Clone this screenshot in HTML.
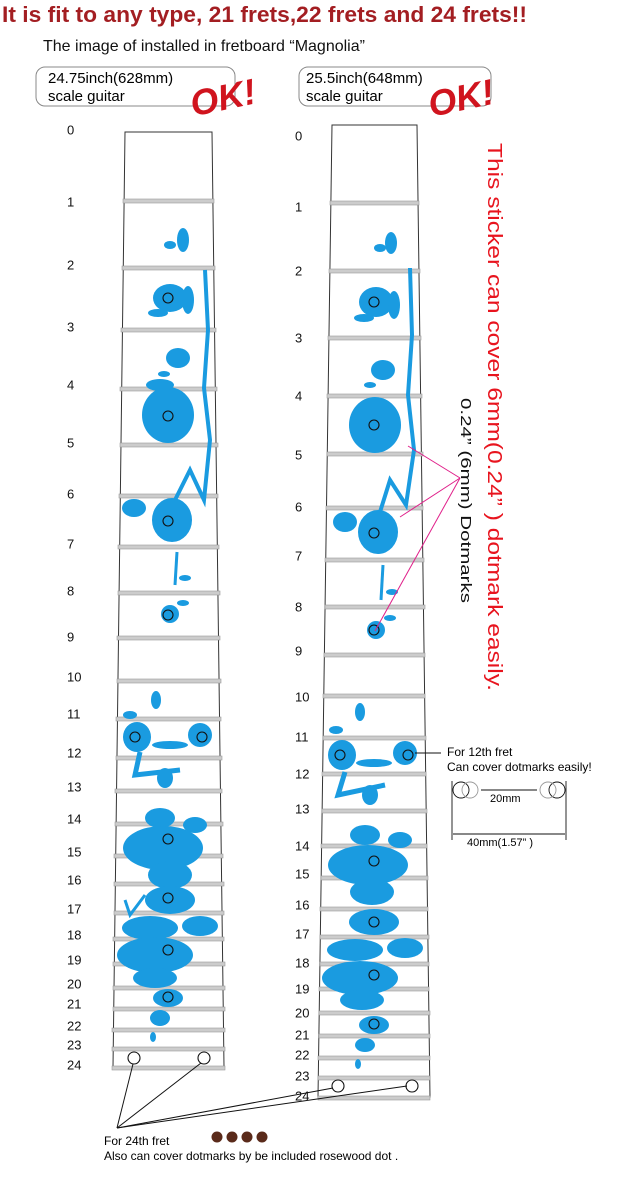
<!DOCTYPE html>
<html><head><meta charset="utf-8"><style>
body{margin:0;background:#fff;}
svg{display:block;font-family:"Liberation Sans",Arial,sans-serif;}
</style></head><body>
<svg width="625" height="1180" viewBox="0 0 625 1180" xmlns="http://www.w3.org/2000/svg">
<rect width="625" height="1180" fill="#fff"/>
<text x="2" y="22" font-size="22" font-weight="bold" fill="#a31e22" textLength="525" lengthAdjust="spacingAndGlyphs">It is fit to any type, 21 frets,22 frets and 24 frets!!</text>
<text x="43" y="51" font-size="16" fill="#111">The image of  installed in fretboard “Magnolia”</text>
<rect x="36" y="67" width="199" height="39" rx="9" fill="none" stroke="#888"/>
<text x="48" y="83" font-size="15">24.75inch(628mm)</text>
<text x="48" y="101" font-size="15">scale guitar</text>
<rect x="299" y="67" width="192" height="39" rx="9" fill="none" stroke="#888"/>
<text x="306" y="83" font-size="15">25.5inch(648mm)</text>
<text x="306" y="101" font-size="15">scale guitar</text>
<text x="192" y="115" font-size="36" font-style="italic" font-weight="bold" fill="#d0141e" transform="rotate(-12 200 110)">OK!</text>
<text x="430" y="115" font-size="36" font-style="italic" font-weight="bold" fill="#d0141e" transform="rotate(-12 440 110)">OK!</text>

<!-- left board -->
<polygon points="125,132 212,132 224,1067 113,1067" fill="#fff" stroke="#333" stroke-width="1"/>
<g fill="#ccc" stroke="#999" stroke-width="0.6">
<rect x="123" y="199" width="91" height="4"/><rect x="122" y="266" width="93" height="4"/><rect x="121" y="328" width="95" height="4"/><rect x="120" y="387" width="97" height="4"/><rect x="120" y="443" width="98" height="4"/><rect x="119" y="494" width="99" height="4"/><rect x="118" y="545" width="101" height="4"/><rect x="118" y="591" width="102" height="4"/><rect x="117" y="636" width="103" height="4"/><rect x="117" y="679" width="104" height="4"/><rect x="116" y="717" width="105" height="4"/><rect x="116" y="756" width="106" height="4"/><rect x="115" y="789" width="107" height="4"/><rect x="115" y="822" width="108" height="4"/><rect x="114" y="854" width="109" height="4"/><rect x="114" y="882" width="110" height="4"/><rect x="114" y="911" width="110" height="4"/><rect x="113" y="937" width="111" height="4"/><rect x="113" y="962" width="112" height="4"/><rect x="113" y="986" width="112" height="4"/><rect x="113" y="1007" width="112" height="4"/><rect x="112" y="1028" width="113" height="4"/><rect x="112" y="1047" width="113" height="4"/><rect x="112" y="1066" width="113" height="4"/>
</g>
<!-- right board -->
<polygon points="332,125 417,125 430,1097 318,1097" fill="#fff" stroke="#333" stroke-width="1"/>
<g fill="#ccc" stroke="#999" stroke-width="0.6">
<rect x="330" y="201" width="89" height="4"/><rect x="329" y="269" width="91" height="4"/><rect x="328" y="336" width="93" height="4"/><rect x="327" y="394" width="95" height="4"/><rect x="327" y="452" width="96" height="4"/><rect x="326" y="506" width="97" height="4"/><rect x="325" y="558" width="99" height="4"/><rect x="325" y="605" width="100" height="4"/><rect x="324" y="653" width="101" height="4"/><rect x="323" y="694" width="102" height="4"/><rect x="323" y="736" width="103" height="4"/><rect x="322" y="772" width="104" height="4"/><rect x="322" y="809" width="105" height="4"/><rect x="321" y="844" width="106" height="4"/><rect x="321" y="876" width="107" height="4"/><rect x="320" y="907" width="108" height="4"/><rect x="320" y="935" width="109" height="4"/><rect x="320" y="962" width="109" height="4"/><rect x="319" y="987" width="110" height="4"/><rect x="319" y="1011" width="111" height="4"/><rect x="319" y="1034" width="111" height="4"/><rect x="318" y="1056" width="112" height="4"/><rect x="318" y="1076" width="112" height="4"/><rect x="318" y="1096" width="112" height="4"/>
</g>

<!-- blue flowers left -->
<g fill="#1a9be0">
<path d="M205,270 L208,330 L204,388 L210,440 L204,500 L190,470 L175,500 L160,512" stroke="#1a9be0" stroke-width="4" fill="none"/>
<ellipse cx="183" cy="240" rx="6" ry="12"/><ellipse cx="170" cy="245" rx="6" ry="4"/>
<ellipse cx="170" cy="298" rx="17" ry="14"/><ellipse cx="158" cy="313" rx="10" ry="4"/><ellipse cx="188" cy="300" rx="6" ry="14"/>
<ellipse cx="178" cy="358" rx="12" ry="10"/><ellipse cx="164" cy="374" rx="6" ry="3"/>
<ellipse cx="168" cy="415" rx="26" ry="28"/><ellipse cx="160" cy="385" rx="14" ry="6"/>
<ellipse cx="134" cy="508" rx="12" ry="9"/><ellipse cx="172" cy="520" rx="20" ry="22"/>
<path d="M177,552 L175,585" stroke="#1a9be0" stroke-width="3" fill="none"/><ellipse cx="185" cy="578" rx="6" ry="3"/>
<ellipse cx="170" cy="614" rx="9" ry="9"/><ellipse cx="183" cy="603" rx="6" ry="3"/>
<ellipse cx="156" cy="700" rx="5" ry="9"/><ellipse cx="130" cy="715" rx="7" ry="4"/>
<ellipse cx="137" cy="737" rx="14" ry="15"/><ellipse cx="200" cy="735" rx="12" ry="12"/><ellipse cx="170" cy="745" rx="18" ry="4"/>
<path d="M140,752 L135,775 L180,770" stroke="#1a9be0" stroke-width="5" fill="none"/><ellipse cx="165" cy="778" rx="8" ry="10"/>
<ellipse cx="160" cy="818" rx="15" ry="10"/><ellipse cx="195" cy="825" rx="12" ry="8"/>
<ellipse cx="163" cy="848" rx="40" ry="22"/><ellipse cx="170" cy="875" rx="22" ry="14"/>
<ellipse cx="170" cy="900" rx="25" ry="14"/><path d="M125,900 L130,915 L145,895" stroke="#1a9be0" stroke-width="3" fill="none"/>
<ellipse cx="150" cy="928" rx="28" ry="12"/><ellipse cx="200" cy="926" rx="18" ry="10"/>
<ellipse cx="155" cy="955" rx="38" ry="18"/><ellipse cx="155" cy="978" rx="22" ry="10"/>
<ellipse cx="168" cy="998" rx="15" ry="9"/><ellipse cx="160" cy="1018" rx="10" ry="8"/><ellipse cx="153" cy="1037" rx="3" ry="5"/>
</g>
<!-- blue flowers right -->
<g fill="#1a9be0">
<path d="M410,268 L412,335 L408,395 L414,450 L406,505 L390,480 L380,512" stroke="#1a9be0" stroke-width="4" fill="none"/>
<ellipse cx="391" cy="243" rx="6" ry="11"/><ellipse cx="380" cy="248" rx="6" ry="4"/>
<ellipse cx="376" cy="302" rx="17" ry="15"/><ellipse cx="364" cy="318" rx="10" ry="4"/><ellipse cx="394" cy="305" rx="6" ry="14"/>
<ellipse cx="383" cy="370" rx="12" ry="10"/><ellipse cx="370" cy="385" rx="6" ry="3"/>
<ellipse cx="375" cy="425" rx="26" ry="28"/>
<ellipse cx="345" cy="522" rx="12" ry="10"/><ellipse cx="378" cy="532" rx="20" ry="22"/>
<path d="M383,565 L381,600" stroke="#1a9be0" stroke-width="3" fill="none"/><ellipse cx="392" cy="592" rx="6" ry="3"/>
<ellipse cx="376" cy="630" rx="9" ry="9"/><ellipse cx="390" cy="618" rx="6" ry="3"/>
<ellipse cx="360" cy="712" rx="5" ry="9"/><ellipse cx="336" cy="730" rx="7" ry="4"/>
<ellipse cx="342" cy="755" rx="14" ry="15"/><ellipse cx="405" cy="753" rx="12" ry="12"/><ellipse cx="374" cy="763" rx="18" ry="4"/>
<path d="M345,772 L338,795 L385,785" stroke="#1a9be0" stroke-width="5" fill="none"/><ellipse cx="370" cy="795" rx="8" ry="10"/>
<ellipse cx="365" cy="835" rx="15" ry="10"/><ellipse cx="400" cy="840" rx="12" ry="8"/>
<ellipse cx="368" cy="865" rx="40" ry="20"/><ellipse cx="372" cy="892" rx="22" ry="13"/>
<ellipse cx="374" cy="922" rx="25" ry="13"/>
<ellipse cx="355" cy="950" rx="28" ry="11"/><ellipse cx="405" cy="948" rx="18" ry="10"/>
<ellipse cx="360" cy="978" rx="38" ry="17"/><ellipse cx="362" cy="1000" rx="22" ry="10"/>
<ellipse cx="374" cy="1025" rx="15" ry="9"/><ellipse cx="365" cy="1045" rx="10" ry="7"/><ellipse cx="358" cy="1064" rx="3" ry="5"/>
</g>

<!-- dots -->
<g fill="none" stroke="#111" stroke-width="1.1">
<circle cx="168" cy="298" r="5"/><circle cx="168" cy="416" r="5"/><circle cx="168" cy="521" r="5"/><circle cx="168" cy="615" r="5"/><circle cx="135" cy="737" r="5"/><circle cx="202" cy="737" r="5"/><circle cx="168" cy="839" r="5"/><circle cx="168" cy="898" r="5"/><circle cx="168" cy="950" r="5"/><circle cx="168" cy="997" r="5"/><circle cx="134" cy="1058" r="6"/><circle cx="204" cy="1058" r="6"/>
<circle cx="374" cy="302" r="5"/><circle cx="374" cy="425" r="5"/><circle cx="374" cy="533" r="5"/><circle cx="374" cy="630" r="5"/><circle cx="340" cy="755" r="5"/><circle cx="408" cy="755" r="5"/><circle cx="374" cy="861" r="5"/><circle cx="374" cy="922" r="5"/><circle cx="374" cy="975" r="5"/><circle cx="374" cy="1024" r="5"/><circle cx="338" cy="1086" r="6"/><circle cx="412" cy="1086" r="6"/>
</g>

<!-- fret numbers -->
<g font-size="13" fill="#111" dominant-baseline="middle">
<text x="67" y="131">0</text><text x="67" y="203">1</text><text x="67" y="266">2</text><text x="67" y="328">3</text><text x="67" y="386">4</text><text x="67" y="444">5</text><text x="67" y="495">6</text><text x="67" y="545">7</text><text x="67" y="592">8</text><text x="67" y="638">9</text><text x="67" y="678">10</text><text x="67" y="715">11</text><text x="67" y="754">12</text><text x="67" y="788">13</text><text x="67" y="820">14</text><text x="67" y="853">15</text><text x="67" y="881">16</text><text x="67" y="910">17</text><text x="67" y="936">18</text><text x="67" y="961">19</text><text x="67" y="985">20</text><text x="67" y="1005">21</text><text x="67" y="1027">22</text><text x="67" y="1046">23</text><text x="67" y="1066">24</text>
<text x="295" y="137">0</text><text x="295" y="208">1</text><text x="295" y="272">2</text><text x="295" y="339">3</text><text x="295" y="397">4</text><text x="295" y="456">5</text><text x="295" y="508">6</text><text x="295" y="557">7</text><text x="295" y="608">8</text><text x="295" y="652">9</text><text x="295" y="698">10</text><text x="295" y="738">11</text><text x="295" y="775">12</text><text x="295" y="810">13</text><text x="295" y="847">14</text><text x="295" y="875">15</text><text x="295" y="906">16</text><text x="295" y="935">17</text><text x="295" y="964">18</text><text x="295" y="990">19</text><text x="295" y="1014">20</text><text x="295" y="1036">21</text><text x="295" y="1056">22</text><text x="295" y="1077">23</text><text x="295" y="1097">24</text>
</g>

<!-- vertical texts -->
<text transform="translate(488,143) rotate(90)" font-size="20" fill="#e8141e" textLength="548" lengthAdjust="spacingAndGlyphs">This sticker can cover 6mm(0.24” ) dotmark easily.</text>
<text transform="translate(461,398) rotate(90)" font-size="15" fill="#111" textLength="205" lengthAdjust="spacingAndGlyphs">0.24” (6mm) Dotmarks</text>
<g stroke="#e0208a" stroke-width="1" fill="none">
<line x1="460" y1="478" x2="408" y2="446"/><line x1="460" y1="478" x2="400" y2="517"/><line x1="460" y1="478" x2="375" y2="631"/>
</g>

<!-- 12th fret note -->
<line x1="415" y1="753" x2="441" y2="753" stroke="#111"/>
<text x="447" y="756" font-size="12">For 12th fret</text>
<text x="447" y="771" font-size="12">Can cover dotmarks easily!</text>
<g fill="none" stroke="#111" stroke-width="0.9">
<line x1="452" y1="781" x2="452" y2="840"/><line x1="566" y1="781" x2="566" y2="840"/>
<circle cx="461" cy="790" r="8"/><circle cx="557" cy="790" r="8"/>
<line x1="481" y1="790" x2="537" y2="790"/><line x1="453" y1="834" x2="565" y2="834"/>
</g>
<g fill="none" stroke="#999" stroke-width="0.9"><circle cx="470" cy="790" r="8"/><circle cx="548" cy="790" r="8"/></g>
<text x="490" y="802" font-size="11">20mm</text>
<text x="467" y="846" font-size="11">40mm(1.57”  )</text>

<!-- 24th pointers -->
<g stroke="#111" stroke-width="1">
<line x1="117" y1="1128" x2="133" y2="1064"/><line x1="117" y1="1128" x2="201" y2="1063"/><line x1="117" y1="1128" x2="333" y2="1088"/><line x1="117" y1="1128" x2="407" y2="1086"/>
</g>
<text x="104" y="1145" font-size="12">For 24th fret</text>
<text x="104" y="1160" font-size="12">Also can cover dotmarks by be included    rosewood dot .</text>
<g fill="#5a2a1a"><circle cx="217" cy="1137" r="5.5"/><circle cx="232" cy="1137" r="5.5"/><circle cx="247" cy="1137" r="5.5"/><circle cx="262" cy="1137" r="5.5"/></g>
</svg>
</body></html>
